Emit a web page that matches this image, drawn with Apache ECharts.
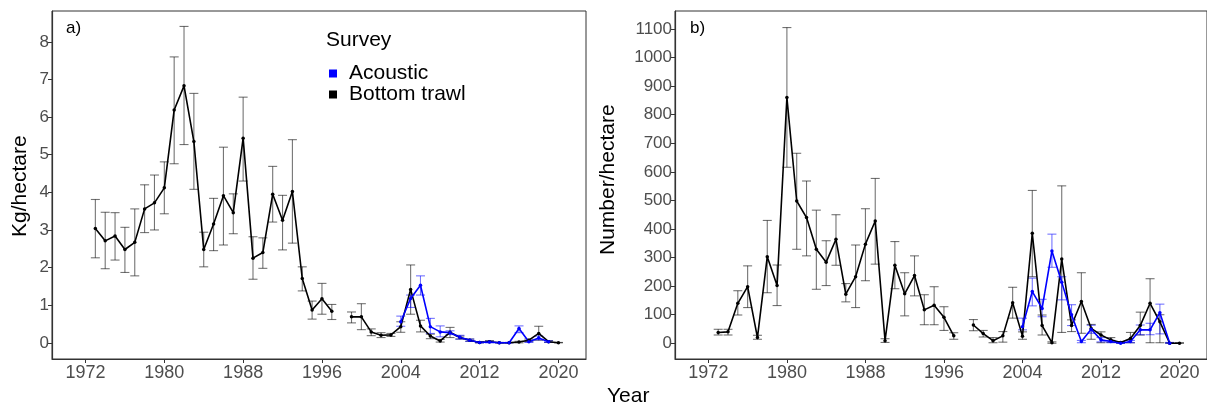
<!DOCTYPE html>
<html><head><meta charset="utf-8">
<script src="https://cdn.jsdelivr.net/npm/echarts@6/dist/echarts.min.js"></script>
<style>html,body{margin:0;padding:0;background:#fff}#c{width:1207px;height:406px}</style>
</head><body><div id="c"></div>
<script>
// ---------- data ----------
const years = [1973,1974,1975,1976,1977,1978,1979,1980,1981,1982,1983,1984,1985,1986,1987,1988,1989,1990,1991,1992,1993,1994,1995,1996,1997,1998,1999,2000,2001,2002,2003,2004,2005,2006,2007,2008,2009,2010,2011,2012,2013,2014,2015,2016,2017,2018,2019,2020];
// Panel a: Kg/hectare, bottom trawl
const trawlKg   = [3.04,2.71,2.84,2.48,2.67,3.56,3.72,4.12,6.19,6.83,5.35,2.48,3.16,3.91,3.46,5.44,2.25,2.40,3.95,3.26,4.02,1.71,0.87,1.17,0.84,null,0.69,0.69,0.29,0.20,0.21,0.43,1.42,0.45,0.18,0.05,0.28,0.14,0.07,0.01,0.03,0,0,0.02,0.07,0.25,0.03,0];
const trawlKgLo = [2.26,1.97,2.20,1.87,1.78,2.93,3.00,3.43,4.76,5.27,4.08,2.02,2.45,2.60,2.90,4.30,1.69,1.98,3.21,2.47,2.65,1.38,0.63,0.76,0.62,null,0.53,0.35,0.19,0.14,0.17,0.28,0.76,0.29,0.11,0.02,0.14,0.10,0.04,0,0.01,0,0,0,0.03,0.07,0.01,0];
const trawlKgHi = [3.81,3.47,3.46,3.07,3.56,4.20,4.46,4.81,7.60,8.41,6.63,2.94,3.84,5.20,3.96,6.53,2.82,2.79,4.69,3.92,5.40,2.02,1.11,1.58,1.02,null,0.82,1.04,0.37,0.27,0.25,0.56,2.07,0.60,0.23,0.09,0.41,0.18,0.10,0.03,0.06,0.01,0.01,0.04,0.10,0.44,0.06,0.01];
const acYears = [2004,2005,2006,2007,2008,2009,2010,2011,2012,2013,2014,2015,2016,2017,2018,2019];
const acousticKg   = [0.56,1.18,1.53,0.43,0.29,0.27,0.15,0.07,0.01,0.02,0,0,0.38,0.03,0.13,0.03];
const acousticKgLo = [0.44,0.94,1.27,0.25,0.16,0.22,0.10,0.04,0,0,0,0,0.27,0.01,0.08,0.01];
const acousticKgHi = [0.71,1.27,1.78,0.65,0.45,0.32,0.20,0.10,0.03,0.04,0.01,0.01,0.45,0.05,0.18,0.05];
// Panel b: Number/hectare
const trawlN   = [38,40,140,198,20,303,202,860,498,440,329,284,364,172,233,347,428,9,273,173,237,117,133,91,26,null,64,34,9,26,142,25,385,62,2,295,62,146,52,29,12,3,17,62,140,75,0,0];
const trawlNLo = [29,29,99,125,14,177,132,616,329,306,189,202,273,145,125,219,277,3,191,96,166,65,65,45,14,null,44,22,2,4,88,14,233,29,0,38,41,35,14,2,3,0,2,29,2,2,0,0];
const trawlNHi = [49,49,184,271,28,430,274,1105,665,568,466,359,450,209,344,471,577,16,356,247,306,170,198,128,37,null,83,45,20,41,196,40,535,99,5,551,82,247,66,40,20,6,38,109,226,100,2,2];
const acousticN   = [58,181,122,323,214,100,6,49,12,6,0,6,47,47,107,0];
const acousticNLo = [47,131,93,266,152,62,2,35,5,2,0,2,30,30,33,0];
const acousticNHi = [88,228,154,382,233,135,10,63,20,10,3,10,64,70,137,3];
const xTicks = [1972,1980,1988,1996,2004,2012,2020];
const yTicksA = [0,1,2,3,4,5,6,7,8];
const yTicksB = [0,100,200,300,400,500,600,700,800,900,1000,1100];

// ---------- helpers ----------
const pairs = (xs, ys) => xs.map((x,i) => [x, ys[i] === null ? '-' : ys[i]]);
const errData = (xs, lo, hi) => xs.map((x,i)=>[x, lo[i], hi[i]]).filter(d => d[1] !== null);
function errSeries(idx, data, color) {
  return {
    type: 'custom', xAxisIndex: idx, yAxisIndex: idx, z: 1, silent: true,
    data: data,
    encode: {x: 0, y: [1, 2]},
    renderItem: function (params, api) {
      const x = api.value(0);
      const pLo = api.coord([x, api.value(1)]);
      const pHi = api.coord([x, api.value(2)]);
      const hw = 4.5;
      const st = {stroke: color, lineWidth: 1.1};
      return {type: 'group', children: [
        {type: 'line', shape: {x1: pLo[0], y1: pLo[1], x2: pHi[0], y2: pHi[1]}, style: st},
        {type: 'line', shape: {x1: pLo[0]-hw, y1: pLo[1], x2: pLo[0]+hw, y2: pLo[1]}, style: st},
        {type: 'line', shape: {x1: pHi[0]-hw, y1: pHi[1], x2: pHi[0]+hw, y2: pHi[1]}, style: st}
      ]};
    }
  };
}
function lineSeries(idx, name, data, color) {
  return {
    type: 'line', name: name, xAxisIndex: idx, yAxisIndex: idx, z: 3,
    data: data, connectNulls: false, symbol: 'circle', symbolSize: 3.5,
    lineStyle: {color: color, width: 1.6}, itemStyle: {color: color},
    animation: false
  };
}
const labelColor = '#4d4d4d';
const font = 'Liberation Sans, Arial, sans-serif';
function xAxis(idx) {
  return {
    type: 'value', gridIndex: idx, min: 1968.6, max: 2022.8,
    splitLine: {show: false},
    axisLine: {show: true, onZero: false, lineStyle: {color: '#333', width: 1.2}},
    axisTick: {show: true, length: 4, lineStyle: {color: '#333'}, customValues: xTicks},
    axisLabel: {color: labelColor, fontSize: 18, fontFamily: font, margin: 5, customValues: xTicks, formatter: v => String(v)}
  };
}
function yAxis(idx, min, max, ticks) {
  return {
    type: 'value', gridIndex: idx, min: min, max: max,
    splitLine: {show: false},
    axisLine: {show: true, onZero: false, lineStyle: {color: '#333', width: 1.2}},
    axisTick: {show: true, length: 4, lineStyle: {color: '#333'}, customValues: ticks},
    axisLabel: {color: labelColor, fontSize: 17, fontFamily: font, margin: 3, customValues: ticks, formatter: v => String(v)}
  };
}

const chart = echarts.init(document.getElementById('c'), null, {renderer: 'canvas'});
chart.setOption({
  animation: false,
  backgroundColor: '#fff',
  grid: [
    {left: 52, top: 11, width: 534, height: 348, show: true, borderColor: '#333', borderWidth: 1, backgroundColor: 'transparent'},
    {left: 675, top: 11, width: 534, height: 348, show: true, borderColor: '#333', borderWidth: 1, backgroundColor: 'transparent'}
  ],
  xAxis: [xAxis(0), xAxis(1)],
  yAxis: [yAxis(0, -0.43, 8.82, yTicksA), yAxis(1, -55, 1163, yTicksB)],
  legend: {
    data: ['Acoustic', 'Bottom trawl'], orient: 'vertical', left: 324, top: 58,
    icon: 'rect', itemWidth: 8, itemHeight: 8, itemGap: 0,
    textStyle: {fontSize: 21, lineHeight: 18, fontFamily: font, color: '#000', padding: [0,0,0,7]}
  },
  graphic: [
    {type: 'text', left: 326, top: 30, style: {text: 'Survey', fontSize: 21, fontFamily: font, fill: '#000'}},
    {type: 'text', left: 66, top: 20, style: {text: 'a)', fontSize: 17, fontFamily: font, fill: '#000'}},
    {type: 'text', left: 690, top: 20, style: {text: 'b)', fontSize: 17, fontFamily: font, fill: '#000'}},
    {type: 'text', x: 607, y: 386, style: {text: 'Year', fontSize: 21, fontFamily: font, fill: '#000'}},
    {type: 'text', x: 10, y: 237, rotation: Math.PI/2, style: {text: 'Kg/hectare', fontSize: 21, fontFamily: font, fill: '#000'}},
    {type: 'text', x: 598, y: 255, rotation: Math.PI/2, style: {text: 'Number/hectare', fontSize: 21, fontFamily: font, fill: '#000'}}
  ],
  series: [
    errSeries(0, errData(years, trawlKgLo, trawlKgHi), 'rgba(0,0,0,0.55)'),
    errSeries(0, errData(acYears, acousticKgLo, acousticKgHi), 'rgba(0,0,255,0.55)'),
    lineSeries(0, 'Bottom trawl', pairs(years, trawlKg), '#000'),
    lineSeries(0, 'Acoustic', pairs(acYears, acousticKg), '#0000ff'),
    errSeries(1, errData(years, trawlNLo, trawlNHi), 'rgba(0,0,0,0.55)'),
    errSeries(1, errData(acYears, acousticNLo, acousticNHi), 'rgba(0,0,255,0.55)'),
    lineSeries(1, 'Bottom trawl', pairs(years, trawlN), '#000'),
    lineSeries(1, 'Acoustic', pairs(acYears, acousticN), '#0000ff')
  ]
});
</script></body></html>
